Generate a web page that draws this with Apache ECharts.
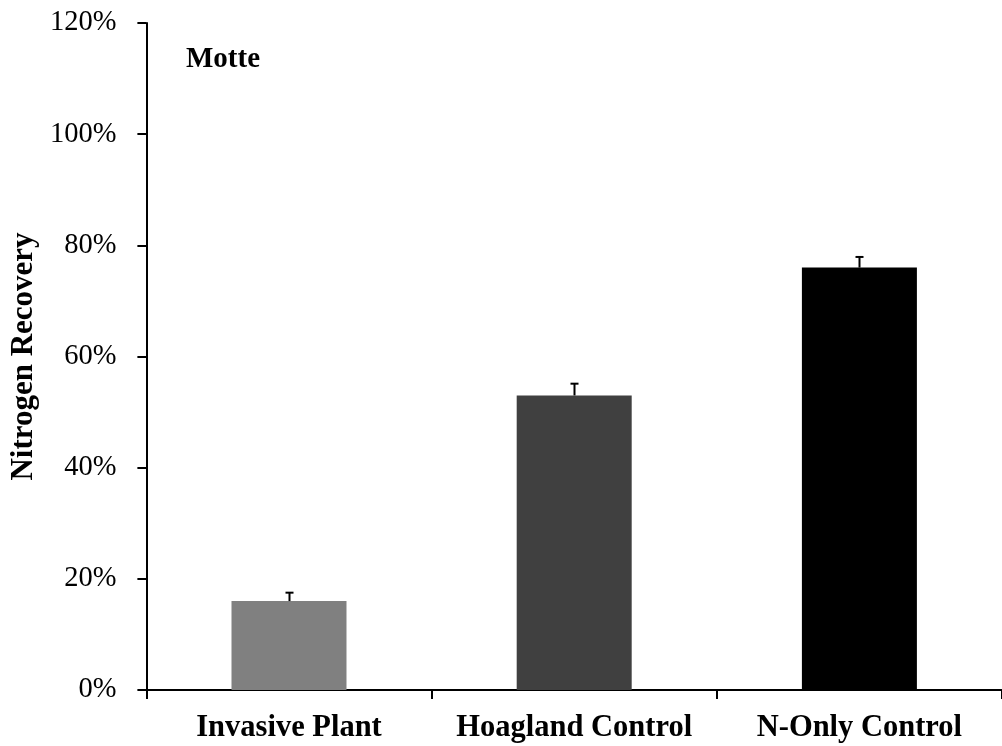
<!DOCTYPE html>
<html>
<head>
<meta charset="utf-8">
<script src="https://cdn.jsdelivr.net/npm/echarts@6/dist/echarts.min.js"></script>
<style>
html,body{margin:0;padding:0;background:#fff;}
#chart{width:1002px;height:746px;}
</style>
</head>
<body>
<div id="chart"></div>
<script>
var categories = ['Invasive Plant', 'Hoagland Control', 'N-Only Control'];
var recovery = [16, 53, 76];
var errorUp = [1.6, 2.2, 2.0];
var barColors = ['#808080', '#404040', '#000000'];
var yTicks = [0, 20, 40, 60, 80, 100, 120];
var panelLabel = 'Motte';
var yAxisName = 'Nitrogen Recovery';

var FONT = "'Liberation Serif', 'Times New Roman', serif";
var chart = echarts.init(document.getElementById('chart'), null, {renderer: 'canvas'});

var errData = recovery.map(function (v, i) { return [i, v, v + errorUp[i]]; });

chart.setOption({
  animation: false,
  backgroundColor: '#ffffff',
  grid: {left: 144, top: 23, width: 861, height: 667, containLabel: false},
  graphic: [{
    type: 'text',
    left: 186,
    top: 45,
    style: {text: panelLabel, font: "bold 29px " + FONT, fill: '#000'}
  }],
  xAxis: {
    type: 'category',
    data: categories,
    boundaryGap: true,
    axisLine: {lineStyle: {color: '#000', width: 2}},
    axisTick: {show: true, length: 9, inside: false, alignWithLabel: false, lineStyle: {color: '#000', width: 2}},
    axisLabel: {color: '#000', fontFamily: FONT, fontWeight: 'bold', fontSize: 30.5, margin: 23, interval: 0},
    splitLine: {show: false}
  },
  yAxis: {
    type: 'value',
    min: yTicks[0],
    max: yTicks[yTicks.length - 1],
    interval: 20,
    name: yAxisName,
    nameLocation: 'middle',
    nameGap: 100,
    nameTextStyle: {color: '#000', fontFamily: FONT, fontWeight: 'bold', fontSize: 31},
    axisLine: {show: true, lineStyle: {color: '#000', width: 2}},
    axisTick: {show: true, length: 9, inside: false, lineStyle: {color: '#000', width: 2}},
    axisLabel: {color: '#000', fontFamily: FONT, fontSize: 28.5, margin: 30, formatter: function (v) { return v + '%'; }},
    splitLine: {show: false}
  },
  series: [{
    type: 'bar',
    data: recovery.map(function (v, i) { return {value: v, itemStyle: {color: barColors[i]}}; }),
    barWidth: 115,
    z: 2
  }, {
    type: 'custom',
    data: errData,
    z: 3,
    renderItem: function (params, api) {
      var base = api.coord([api.value(0), api.value(1)]);
      var top = api.coord([api.value(0), api.value(2)]);
      var x = Math.round(base[0]) + 0.5;
      return {
        type: 'group',
        children: [{
          type: 'line',
          shape: {x1: x, y1: base[1], x2: x, y2: top[1]},
          style: {stroke: '#000', lineWidth: 2}
        }, {
          type: 'line',
          shape: {x1: x - 4, y1: top[1] + 0.5, x2: x + 4, y2: top[1] + 0.5},
          style: {stroke: '#000', lineWidth: 2}
        }]
      };
    }
  }]
});
</script>
</body>
</html>
